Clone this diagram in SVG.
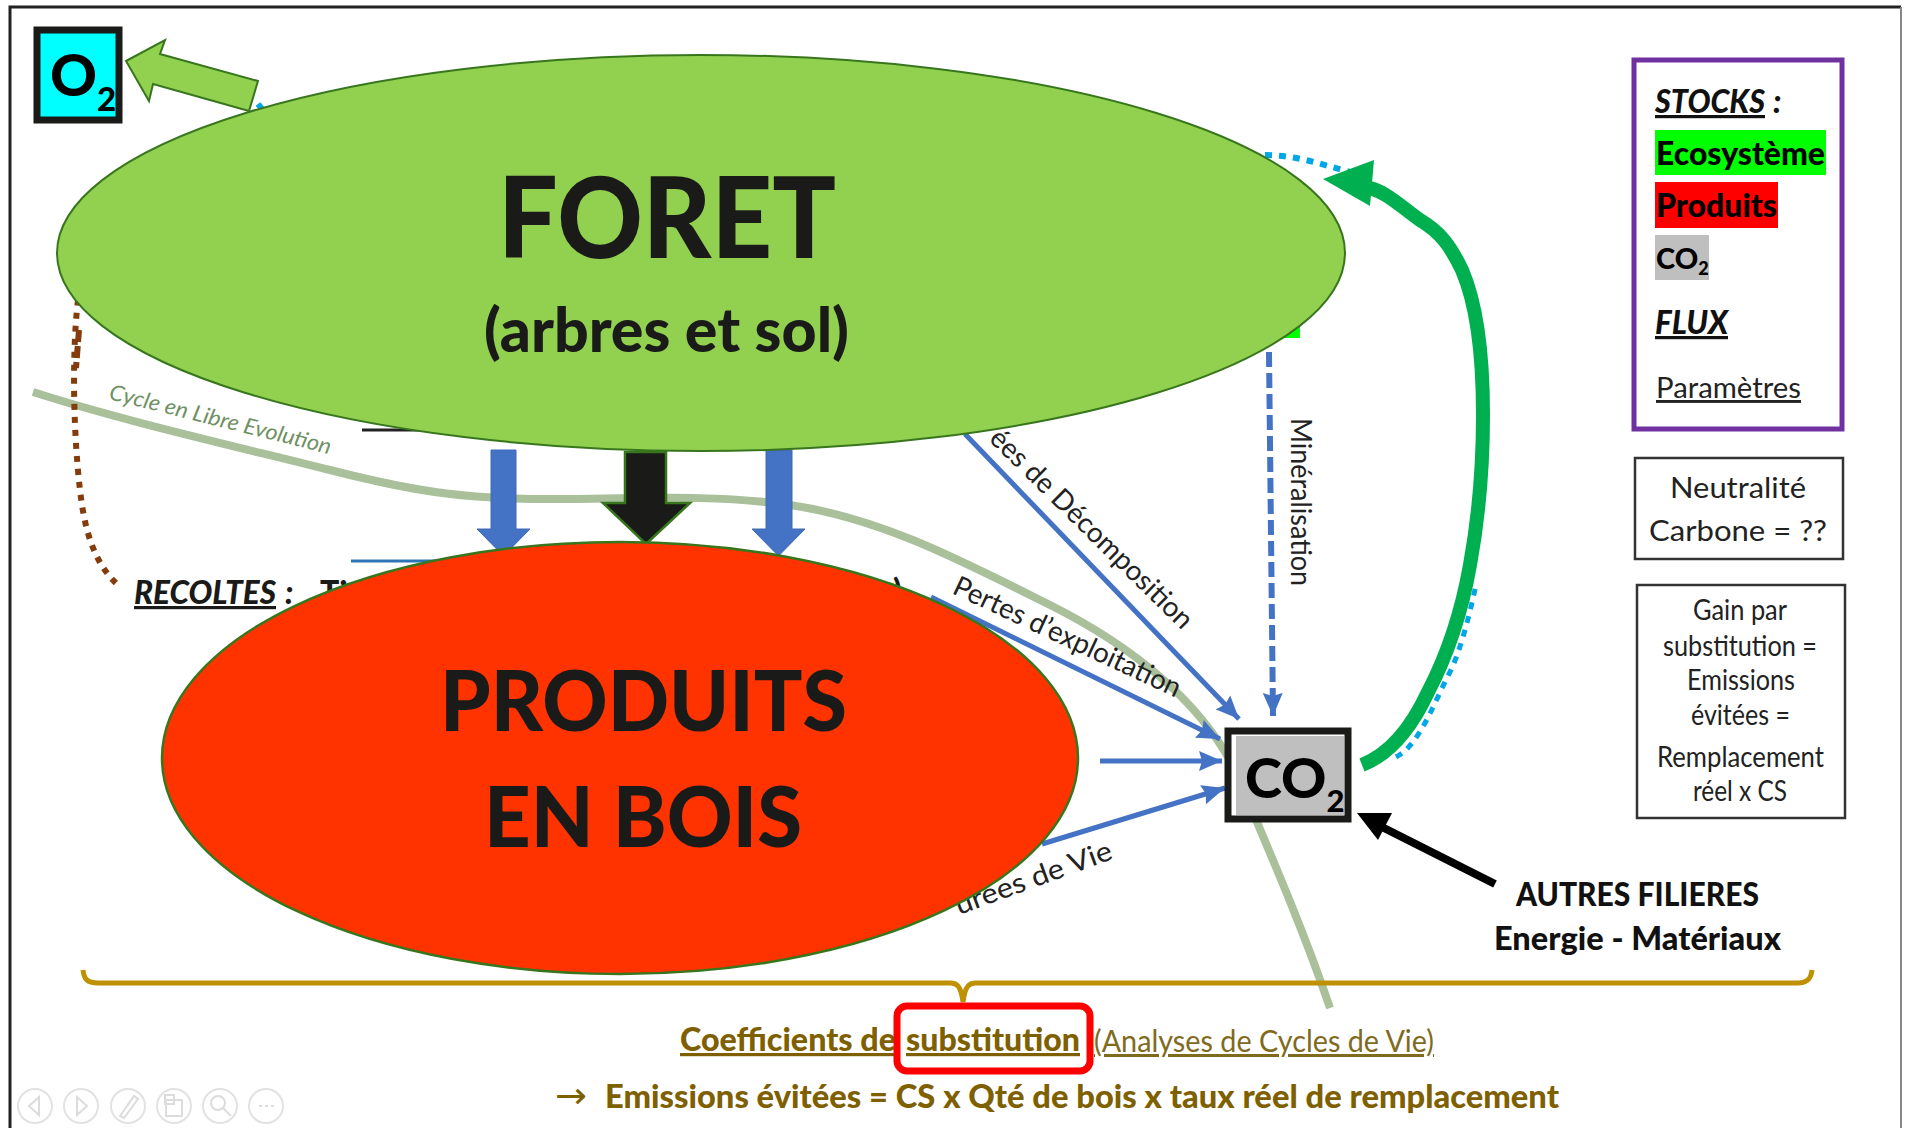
<svg xmlns="http://www.w3.org/2000/svg" width="1906" height="1128" viewBox="0 0 1906 1128">
<style>
text{font-family:Lato,"Open Sans",sans-serif;fill:#1a1a18}
.b{font-weight:900}
.i{font-style:italic}
.u{text-decoration:underline}
.lab{font-size:28px;fill:#222}
.leg{font-size:28px;fill:#222}
.gold{fill:#7f6000}
.flow{fill:none;stroke:#4472c4;stroke-width:5;marker-end:url(#ah)}
.block{fill:#4472c4;stroke:#3f6ab5;stroke-width:1}
.sky{fill:none;stroke:#00a6e8;stroke-width:6;stroke-dasharray:7 7}
.box{fill:#fff;stroke:#333;stroke-width:2.5}
.ic{fill:#fff;stroke:#e2e2e2;stroke-width:2}
.ig{fill:none;stroke:#dcdcdc;stroke-width:2}
</style>
<defs>
<marker id="ah" markerUnits="userSpaceOnUse" markerWidth="24" markerHeight="22" refX="23" refY="11" orient="auto"><path d="M0 1L23 11L0 21L3 11Z" fill="#4472c4"/></marker>
</defs>
<rect width="1906" height="1128" fill="#fff"/>
<path d="M10 1128V7H1901" fill="none" stroke="#222" stroke-width="3"/>
<path d="M1901 7V1128" fill="none" stroke="#888" stroke-width="2"/>

<g id="connectors">
<path id="cycle" d="M33 392C120 420 230 445 330 470C420 493 470 500 570 499C650 498 720 495 790 505C880 518 960 560 1050 605C1130 645 1200 700 1235 770C1260 830 1300 920 1330 1008" fill="none" stroke="#a9c09a" stroke-width="8"/>
<path d="M258 104l8 10" class="sky"/>
<path d="M1265 155C1295 155 1320 164 1350 172" class="sky"/>
<path d="M1396 757C1420 745 1435 700 1452 668C1463 642 1470 612 1476 585" class="sky" style="stroke-width:5"/>
<path d="M78 300C72 350 73 430 80 490C85 535 96 565 118 585" fill="none" stroke="#843c0c" stroke-width="6" stroke-dasharray="6 7"/>
<path d="M79 330L76 368" fill="none" stroke="#843c0c" stroke-width="6" stroke-dasharray="12 4"/>
<path d="M126 61L165 40L160 54L258 81L249 111L153 84L149 101Z" fill="#92d050" stroke="#38761d" stroke-width="2"/>
<path d="M491 450H516V529H530L503.500 556L477 529H491Z" class="block"/>
<path d="M766 450H792V529H805L778.500 556L752 529H766Z" class="block"/>
<path d="M625 452H666V503H690L646 544L603 503H625Z" fill="#1a1a18" stroke="#38761d" stroke-width="2.500"/>
<path d="M965 434L1239 719" class="flow"/>
<path d="M931 597L1220 739" class="flow"/>
<path d="M1100 761H1222" class="flow"/>
<path d="M1042 844L1225 788" class="flow"/>
<path d="M1269 352L1273 716" class="flow" stroke-dasharray="15 6" style="stroke-width:6"/>
<path d="M1362 765C1395 752 1415 720 1428 692C1450 650 1462 610 1470 565C1480 510 1483 460 1483 415C1483 350 1475 300 1462 270C1450 245 1440 232 1420 220C1400 206 1385 190 1365 187" fill="none" stroke="#00b050" stroke-width="14"/>
<path d="M1323 179L1374 160L1370 206Z" fill="#00b050"/>
<path d="M1495 884L1380 826" fill="none" stroke="#000" stroke-width="8"/>
<path d="M1357 813L1392 813L1378 840Z" fill="#000"/>
</g>

<g id="hidden-labels">
<text class="b i u" x="134" y="604" font-size="32" textLength="142" lengthAdjust="spacingAndGlyphs">RECOLTES</text>
<text class="b i" x="285" y="604" font-size="32">:</text>
<text class="b" x="320" y="604" font-size="32">Ti</text>
<text class="b" x="893" y="602" font-size="32">)</text>
<path d="M362 430H470" stroke="#222" stroke-width="3"/>
<path d="M351 561H450" stroke="#2e75b6" stroke-width="3"/>
<rect x="1280" y="325" width="20" height="13" fill="#00ff00"/>
<text class="lab" transform="translate(988,440) rotate(44.500)" textLength="272" lengthAdjust="spacingAndGlyphs">ées de Décomposition</text>
<text class="lab" transform="translate(951,593) rotate(25)" textLength="248" lengthAdjust="spacingAndGlyphs">Pertes d’exploitation</text>
<text class="lab" transform="translate(1291,418) rotate(90)" textLength="168" lengthAdjust="spacingAndGlyphs">Minéralisation</text>
<text class="lab" transform="translate(959,915) rotate(-20)" textLength="165" lengthAdjust="spacingAndGlyphs">urées de Vie</text>
<text class="i" transform="translate(108,399) rotate(14)" font-size="22" style="fill:#6f9163" textLength="228" lengthAdjust="spacingAndGlyphs">Cycle en Libre Evolution</text>
</g>

<g id="foret">
<ellipse cx="701" cy="253" rx="644" ry="198" fill="#92d050" stroke="#38761d" stroke-width="2"/>
<text class="b" x="498" y="258" font-size="112" textLength="338" lengthAdjust="spacingAndGlyphs">FORET</text>
<text class="b" x="484" y="352" font-size="60" textLength="365" lengthAdjust="spacingAndGlyphs">(arbres et sol)</text>
</g>
<g id="produits">
<ellipse cx="620" cy="758" rx="458" ry="216" fill="#ff3300" stroke="#38761d" stroke-width="2.500"/>
<text class="b" x="440" y="731" font-size="84" textLength="407" lengthAdjust="spacingAndGlyphs">PRODUITS</text>
<text class="b" x="484" y="847" font-size="84" textLength="318" lengthAdjust="spacingAndGlyphs">EN BOIS</text>
</g>
<g id="o2">
<rect x="37" y="30" width="82" height="90" fill="#00ffff" stroke="#1a1a18" stroke-width="7"/>
<text class="b" x="50" y="96" font-size="58" style="fill:#000">O<tspan font-size="33" dy="15">2</tspan></text>
</g>
<g id="co2">
<rect x="1228" y="731" width="120" height="88" fill="#fff" stroke="#1a1a18" stroke-width="7"/>
<rect x="1236" y="736" width="108" height="79" fill="#bfbfbf"/>
<text class="b" x="1245" y="798" font-size="56" style="fill:#000">CO<tspan font-size="31" dy="14">2</tspan></text>
</g>
<g id="autres">
<text class="b" x="1516" y="906" font-size="32" style="fill:#111" textLength="243" lengthAdjust="spacingAndGlyphs">AUTRES FILIERES</text>
<text class="b" x="1494" y="950" font-size="32" style="fill:#111" textLength="287" lengthAdjust="spacingAndGlyphs">Energie - Matériaux</text>
</g>
<g id="legende">
<rect x="1634" y="60" width="208" height="369" fill="#fff" stroke="#7030a0" stroke-width="5"/>
<rect x="1655" y="130" width="171" height="45" fill="#00ff00"/>
<rect x="1655" y="182" width="123" height="46" fill="#ff0000"/>
<rect x="1655" y="235" width="54" height="45" fill="#bfbfbf"/>
<text class="b i u" x="1655" y="113" font-size="32" style="fill:#111" textLength="110" lengthAdjust="spacingAndGlyphs">STOCKS</text>
<text class="b i" x="1773" y="113" font-size="32" style="fill:#111">:</text>
<text class="b" x="1656" y="165" font-size="32" style="fill:#000" textLength="169" lengthAdjust="spacingAndGlyphs">Ecosystème</text>
<text class="b" x="1656" y="217" font-size="32" style="fill:#000" textLength="121" lengthAdjust="spacingAndGlyphs">Produits</text>
<text class="b" x="1656" y="269" font-size="29" style="fill:#000">CO<tspan font-size="18" dy="6">2</tspan></text>
<text class="b i u" x="1655" y="334" font-size="32" style="fill:#111" textLength="73" lengthAdjust="spacingAndGlyphs">FLUX</text>
<text class="u" x="1656" y="398" font-size="29" style="fill:#222" textLength="145" lengthAdjust="spacingAndGlyphs">Paramètres</text>
</g>
<g id="neutralite">
<rect x="1635" y="458" width="208" height="101" class="box"/>
<text class="leg" x="1670" y="498" font-size="32" textLength="136" lengthAdjust="spacingAndGlyphs">Neutralité</text>
<text class="leg" x="1649" y="541" font-size="32" textLength="178" lengthAdjust="spacingAndGlyphs">Carbone = ??</text>
</g>
<g id="gain">
<rect x="1637" y="585" width="208" height="233" class="box"/>
<text class="leg" x="1693" y="620" textLength="94" lengthAdjust="spacingAndGlyphs">Gain par</text>
<text class="leg" x="1663" y="656" textLength="154" lengthAdjust="spacingAndGlyphs">substitution =</text>
<text class="leg" x="1687" y="690" textLength="108" lengthAdjust="spacingAndGlyphs">Emissions</text>
<text class="leg" x="1691" y="725" textLength="99" lengthAdjust="spacingAndGlyphs">évitées =</text>
<text class="leg" x="1657" y="767" textLength="167" lengthAdjust="spacingAndGlyphs">Remplacement</text>
<text class="leg" x="1693" y="801" textLength="94" lengthAdjust="spacingAndGlyphs">réel x CS</text>
</g>
<g id="accolade">
<path d="M83 970C84 979 87 983 98 983H950C957 983 961 986 963 1002C965 986 969 983 976 983H1798C1807 983 1811 979 1812 970" fill="none" stroke="#bf9000" stroke-width="5"/>
</g>
<g id="substitution">
<text class="b u gold" x="680" y="1051" font-size="32" textLength="216" lengthAdjust="spacingAndGlyphs">Coefficients de</text>
<text class="b u gold" x="906" y="1051" font-size="32" textLength="174" lengthAdjust="spacingAndGlyphs">substitution</text>
<text class="u gold" x="1094" y="1052" font-size="30" style="fill:#806a20" textLength="340" lengthAdjust="spacingAndGlyphs">(Analyses de Cycles de Vie)</text>
<rect x="897" y="1006" width="193" height="65" rx="10" fill="none" stroke="#ff0000" stroke-width="7"/>
<text class="gold" x="555" y="1108" font-size="36" style="font-family:'DejaVu Sans',sans-serif" textLength="32" lengthAdjust="spacingAndGlyphs">→</text>
<text class="b gold" x="605" y="1108" font-size="32" textLength="954" lengthAdjust="spacingAndGlyphs">Emissions évitées = CS x Qté de bois x taux réel de remplacement</text>
</g>
<g id="commandes">
<circle cx="35" cy="1106" r="17" class="ic"/><path d="M39 1097L29 1106L39 1115Z" class="ig"/>
<circle cx="81" cy="1106" r="17" class="ic"/><path d="M77 1097L87 1106L77 1115Z" class="ig"/>
<circle cx="128" cy="1106" r="17" class="ic"/><path d="M120 1116L134 1096L138 1099L124 1118Z" class="ig"/>
<circle cx="174" cy="1106" r="17" class="ic"/><rect x="166" y="1100" width="16" height="16" class="ig"/><rect x="165" y="1095" width="9" height="9" class="ig"/>
<circle cx="220" cy="1106" r="17" class="ic"/><circle cx="218" cy="1103" r="7" class="ig"/><path d="M223 1108L231 1116" class="ig"/>
<circle cx="266" cy="1106" r="17" class="ic"/><path d="M259 1106h3M265 1106h3M271 1106h3" class="ig"/>
</g>
</svg>
